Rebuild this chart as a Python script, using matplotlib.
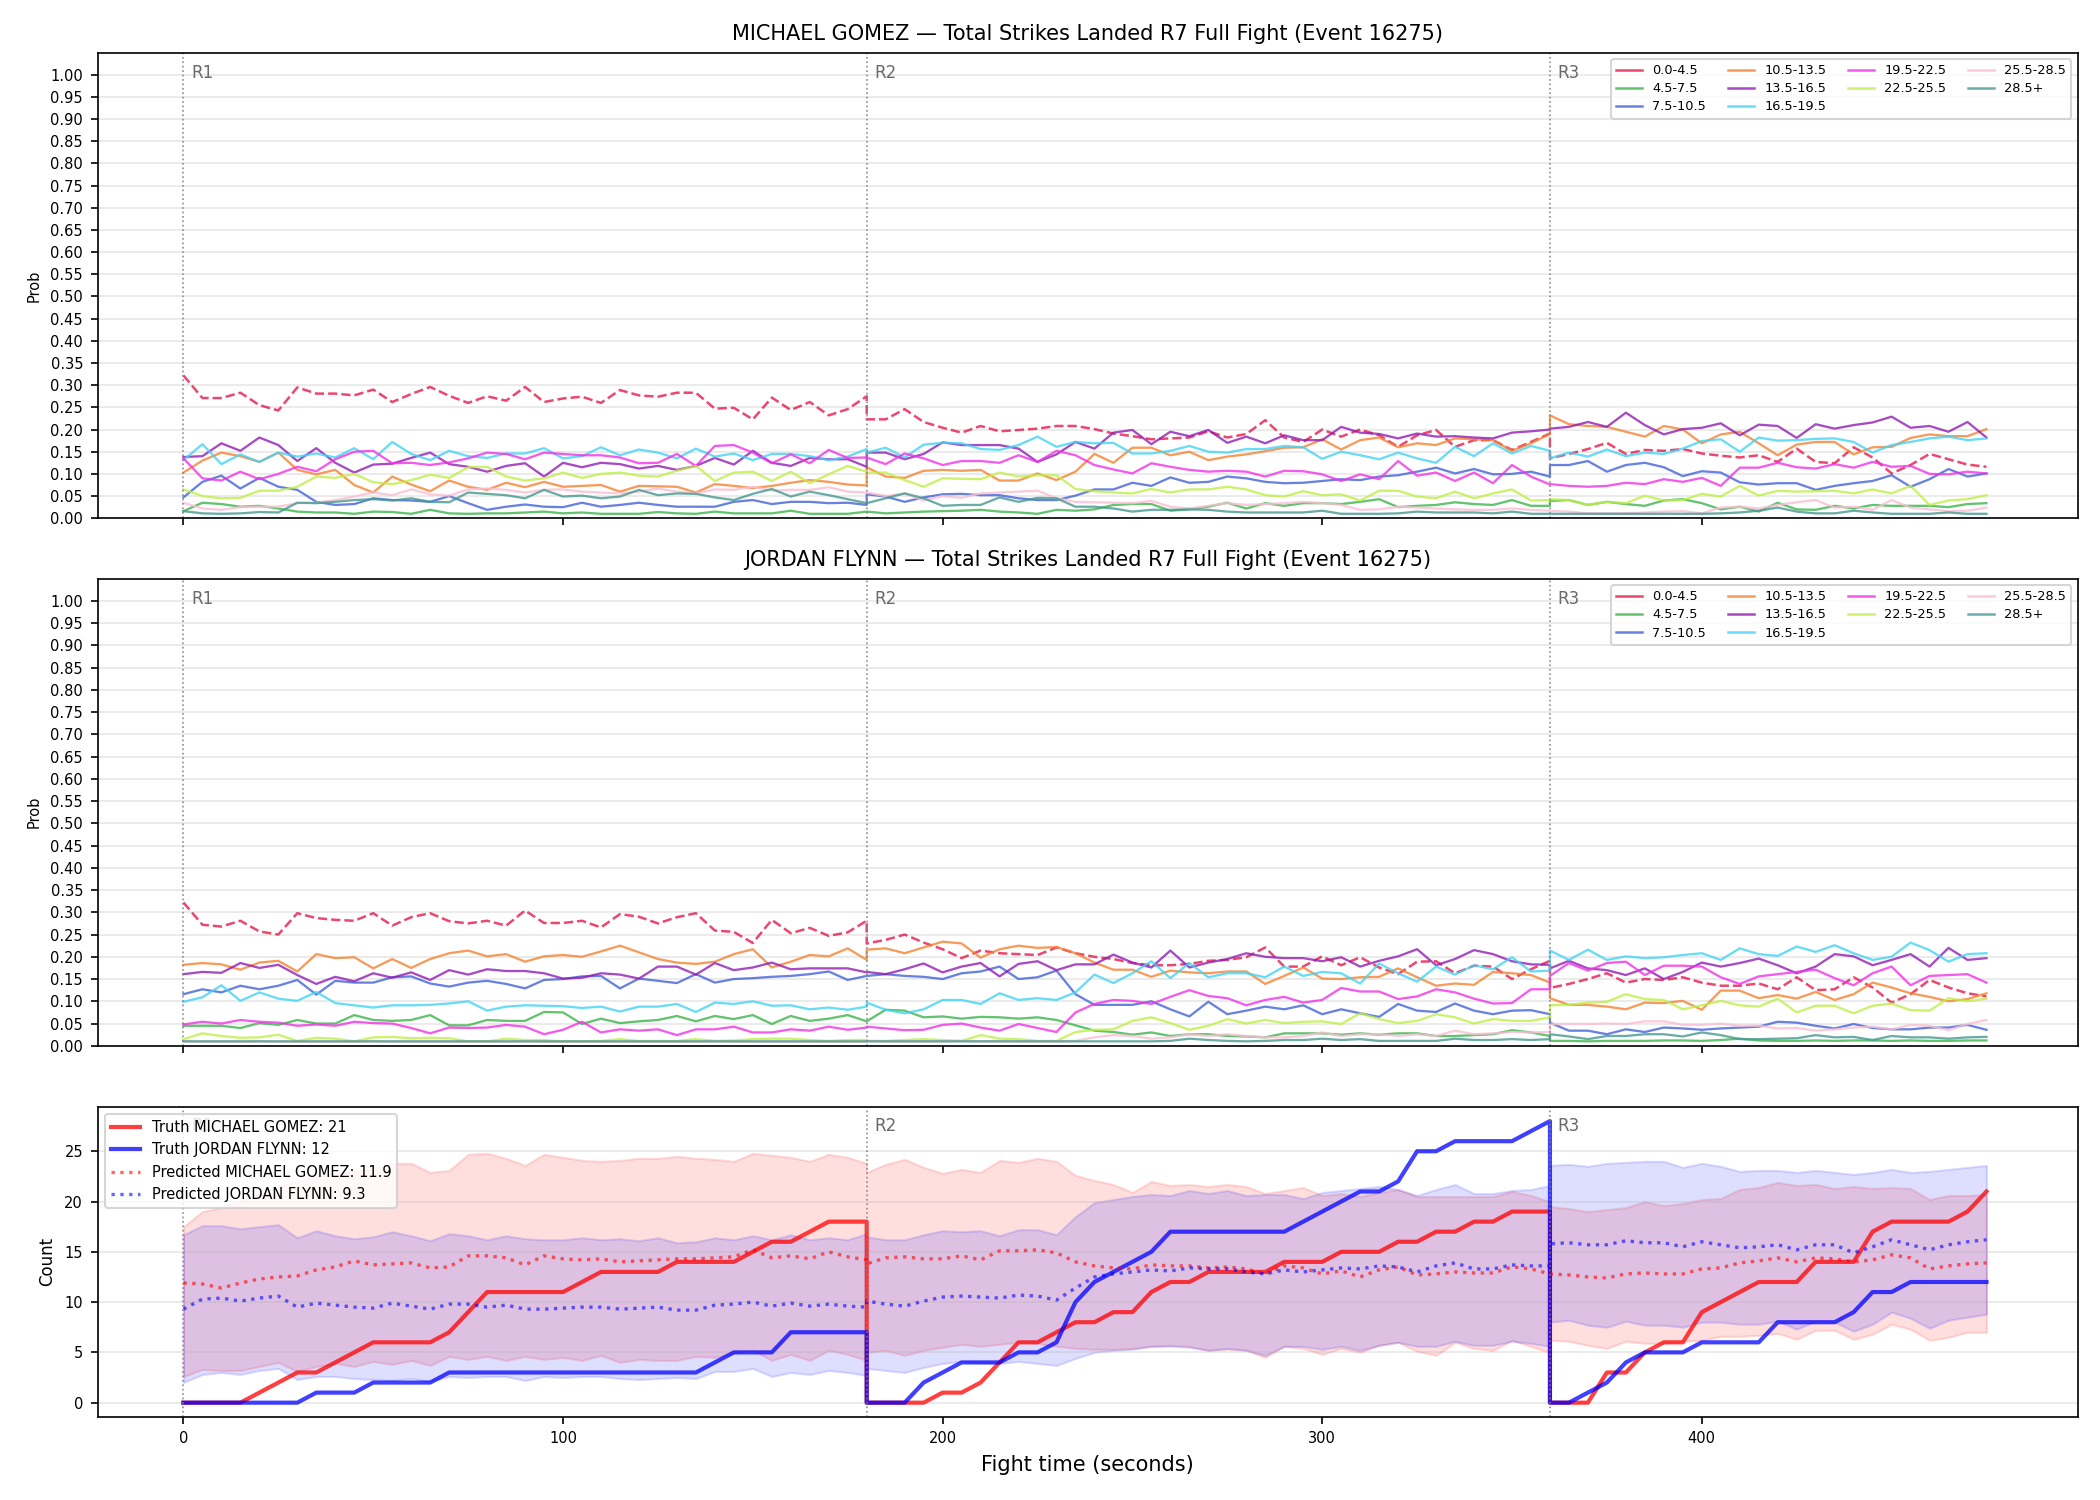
"""
Round-by-round strike-bin probabilities and cumulative strike counts for one fight.
"""
from __future__ import annotations

import matplotlib

matplotlib.use("Agg")
import matplotlib.pyplot as plt  # noqa: E402
import numpy as np  # noqa: E402
from matplotlib.lines import Line2D  # noqa: E402

RED_NAME = "MICHAEL GOMEZ"
BLUE_NAME = "JORDAN FLYNN"
TITLE_TAIL = "Total Strikes Landed R7 Full Fight (Event 16275)"

ROUND_STARTS = [0, 180, 360]
ROUND_LABELS = ["R1", "R2", "R3"]
FIGHT_END = 475

BIN_LABELS = ["0.0-4.5", "4.5-7.5", "7.5-10.5", "10.5-13.5", "13.5-16.5",
              "16.5-19.5", "19.5-22.5", "22.5-25.5", "25.5-28.5", "28.5+"]
BIN_COLORS = ["#e6194b", "#3cb44b", "#4363d8", "#f58231", "#911eb4",
              "#42d4f4", "#f032e6", "#bfef45", "#fabed4", "#469990"]

# ---- MICHAEL GOMEZ bin probabilities (R1 | R2 | R3, every 5 s) ----
gomez_00_45 = [.322, .271, .271, .283, .255, .243, .295, .281, .281, .277, .290, .262, .280, .296, .276, .260, .275, .265, .296, .262, .270, .274, .260, .289, .277, .274, .283, .283, .247, .249, .223, .272, .244, .262, .232, .246, .275] + \
    [.223, .223, .246, .217, .204, .193, .208, .196, .199, .202, .208, .208, .201, .191, .185, .178, .180, .182, .196, .182, .190, .221, .182, .172, .200, .184, .200, .187, .161, .187, .199, .161, .176, .176, .154, .172, .191] + \
    [.135, .145, .156, .170, .145, .154, .152, .156, .146, .141, .137, .142, .127, .157, .127, .124, .160, .137, .101, .120, .145, .133, .121, .116]
gomez_45_75 = [.016, .035, .032, .026, .028, .022, .015, .013, .013, .010, .015, .014, .010, .019, .011, .010, .011, .011, .013, .015, .011, .013, .010, .010, .010, .014, .011, .010, .015, .011, .011, .011, .017, .010, .010, .010, .015] + \
    [.015, .011, .013, .015, .016, .017, .019, .015, .013, .010, .019, .017, .020, .030, .032, .032, .017, .020, .026, .035, .022, .034, .028, .034, .034, .032, .037, .043, .025, .028, .030, .036, .032, .030, .041, .028, .028] + \
    [.039, .041, .030, .037, .032, .028, .040, .043, .034, .020, .026, .015, .035, .020, .019, .028, .022, .030, .028, .028, .028, .025, .032, .034]
gomez_75_105 = [.047, .082, .096, .067, .091, .071, .064, .037, .030, .032, .045, .041, .040, .037, .050, .034, .019, .026, .031, .026, .025, .035, .026, .030, .035, .030, .026, .026, .026, .037, .041, .032, .037, .037, .034, .035, .030] + \
    [.054, .049, .037, .047, .054, .055, .052, .052, .045, .041, .041, .051, .065, .065, .080, .073, .092, .080, .082, .094, .090, .082, .079, .080, .084, .088, .086, .094, .097, .105, .114, .101, .111, .099, .100, .105, .094] + \
    [.120, .120, .129, .105, .120, .125, .115, .095, .106, .103, .081, .076, .079, .079, .064, .073, .079, .084, .097, .071, .088, .111, .094, .101]
gomez_105_135 = [.103, .130, .148, .140, .127, .148, .109, .099, .109, .075, .058, .094, .076, .061, .085, .071, .064, .080, .070, .082, .071, .073, .075, .060, .073, .072, .071, .058, .077, .073, .068, .073, .080, .086, .082, .076, .074] + \
    [.115, .094, .091, .107, .109, .107, .109, .085, .085, .101, .086, .105, .145, .125, .159, .159, .142, .150, .131, .139, .144, .151, .159, .160, .178, .155, .176, .182, .160, .169, .165, .180, .178, .176, .152, .169, .190] + \
    [.232, .212, .208, .206, .195, .184, .208, .200, .169, .189, .195, .169, .142, .166, .172, .172, .144, .160, .161, .181, .189, .185, .185, .201]
gomez_135_165 = [.138, .140, .169, .152, .182, .165, .129, .158, .125, .103, .121, .123, .136, .148, .122, .116, .105, .118, .124, .094, .125, .115, .125, .122, .112, .118, .109, .118, .136, .121, .152, .125, .118, .136, .133, .133, .116] + \
    [.148, .148, .133, .145, .171, .165, .165, .165, .157, .127, .144, .172, .157, .193, .199, .167, .195, .185, .199, .170, .184, .169, .187, .176, .176, .206, .193, .190, .180, .191, .184, .185, .182, .180, .193, .196, .200] + \
    [.202, .206, .217, .206, .238, .210, .189, .201, .204, .214, .187, .211, .208, .181, .212, .202, .210, .216, .229, .204, .208, .195, .217, .182]
gomez_165_195 = [.131, .167, .122, .144, .127, .148, .139, .146, .137, .158, .133, .172, .145, .131, .152, .140, .136, .146, .146, .158, .135, .140, .160, .142, .155, .148, .135, .157, .139, .146, .131, .145, .145, .140, .131, .139, .156] + \
    [.148, .159, .137, .166, .170, .169, .156, .154, .165, .184, .161, .172, .169, .170, .146, .146, .152, .163, .150, .148, .156, .156, .163, .160, .134, .150, .142, .133, .148, .135, .125, .161, .140, .169, .146, .163, .152] + \
    [.135, .148, .139, .155, .140, .148, .145, .157, .174, .178, .150, .182, .175, .176, .179, .180, .172, .148, .165, .172, .180, .184, .176, .180]
gomez_195_225 = [.135, .090, .085, .105, .088, .100, .116, .106, .133, .150, .152, .124, .125, .120, .126, .135, .148, .145, .133, .148, .145, .142, .142, .137, .124, .125, .145, .118, .163, .165, .148, .124, .144, .124, .154, .136, .137] + \
    [.137, .122, .146, .135, .120, .129, .129, .125, .142, .127, .152, .142, .120, .110, .101, .124, .116, .109, .105, .107, .105, .094, .107, .106, .099, .084, .099, .088, .129, .096, .103, .084, .103, .079, .120, .094, .076] + \
    [.077, .073, .071, .073, .080, .077, .088, .082, .091, .073, .114, .114, .125, .115, .112, .122, .114, .127, .116, .118, .100, .099, .105, .101]
gomez_225_255 = [.065, .050, .045, .046, .062, .062, .071, .094, .091, .100, .081, .077, .086, .098, .091, .115, .116, .094, .085, .090, .103, .091, .100, .103, .096, .094, .107, .118, .084, .103, .105, .084, .105, .079, .099, .118, .105] + \
    [.103, .103, .086, .071, .090, .089, .088, .103, .094, .097, .097, .066, .061, .058, .056, .066, .058, .065, .065, .071, .065, .052, .049, .061, .052, .054, .040, .062, .062, .049, .045, .060, .045, .056, .065, .040, .041] + \
    [.043, .041, .030, .037, .034, .051, .040, .041, .055, .049, .073, .051, .062, .060, .061, .062, .056, .065, .056, .073, .030, .040, .043, .052]
gomez_255_285 = [.035, .022, .019, .025, .026, .026, .034, .035, .041, .049, .058, .052, .065, .054, .051, .065, .067, .064, .058, .064, .065, .060, .058, .056, .060, .067, .060, .056, .065, .064, .071, .062, .064, .064, .070, .060, .058] + \
    [.058, .050, .056, .040, .050, .046, .056, .058, .060, .062, .045, .037, .036, .035, .034, .039, .026, .022, .028, .034, .030, .032, .034, .037, .034, .030, .019, .020, .026, .024, .022, .020, .019, .019, .022, .019, .017] + \
    [.017, .015, .011, .011, .011, .013, .015, .016, .011, .024, .026, .022, .030, .036, .041, .024, .026, .019, .041, .024, .020, .016, .017, .024]
gomez_285_up = [.016, .011, .010, .011, .014, .013, .035, .034, .037, .041, .043, .040, .045, .037, .036, .058, .055, .052, .045, .064, .049, .051, .045, .049, .064, .052, .056, .055, .047, .041, .055, .066, .049, .060, .052, .043, .034] + \
    [.034, .045, .056, .045, .028, .030, .030, .047, .037, .046, .045, .026, .026, .022, .015, .019, .019, .020, .019, .015, .013, .013, .013, .013, .017, .010, .010, .010, .011, .015, .013, .013, .013, .011, .015, .010, .010] + \
    [.010, .010, .010, .010, .010, .010, .010, .010, .010, .011, .013, .017, .024, .015, .011, .011, .017, .013, .010, .010, .010, .013, .010, .010]

# ---- JORDAN FLYNN bin probabilities ----
flynn_00_45 = [.322, .272, .268, .281, .257, .250, .298, .287, .283, .281, .298, .270, .289, .298, .280, .275, .281, .270, .304, .276, .276, .281, .266, .296, .290, .275, .289, .298, .259, .256, .231, .283, .253, .265, .247, .255, .281] + \
    [.230, .238, .250, .232, .217, .197, .214, .208, .206, .204, .221, .208, .200, .195, .186, .181, .181, .184, .191, .193, .199, .221, .178, .178, .201, .181, .199, .176, .161, .189, .190, .163, .180, .178, .150, .172, .191] + \
    [.130, .139, .150, .163, .142, .150, .148, .154, .142, .135, .135, .140, .127, .154, .125, .127, .154, .131, .097, .116, .148, .131, .118, .111]
flynn_45_75 = [.045, .045, .045, .040, .051, .047, .058, .050, .050, .069, .058, .056, .058, .069, .046, .046, .058, .056, .056, .076, .075, .049, .061, .051, .055, .058, .067, .055, .067, .060, .069, .049, .067, .056, .061, .069, .055] + \
    [.055, .081, .079, .064, .066, .061, .065, .064, .061, .064, .058, .046, .034, .031, .025, .030, .022, .026, .026, .022, .021, .019, .028, .028, .028, .025, .028, .025, .028, .028, .022, .022, .024, .026, .035, .030, .022] + \
    [.011, .011, .010, .011, .011, .011, .012, .012, .011, .013, .016, .012, .011, .011, .012, .011, .012, .012, .011, .012, .011, .011, .012, .012]
flynn_75_105 = [.116, .127, .120, .135, .127, .135, .148, .115, .146, .142, .142, .154, .156, .140, .133, .142, .146, .139, .129, .148, .150, .156, .157, .129, .151, .146, .141, .161, .142, .150, .152, .155, .157, .161, .167, .148, .157] + \
    [.157, .161, .157, .155, .150, .163, .167, .178, .150, .154, .169, .116, .092, .092, .092, .100, .082, .066, .099, .071, .079, .088, .082, .091, .071, .082, .073, .065, .094, .079, .076, .095, .079, .071, .079, .080, .071] + \
    [.052, .034, .034, .026, .037, .031, .041, .039, .036, .039, .041, .043, .054, .052, .045, .039, .049, .040, .037, .037, .041, .041, .047, .036]
flynn_105_135 = [.182, .186, .183, .171, .187, .191, .167, .206, .197, .199, .174, .195, .175, .195, .208, .214, .201, .206, .189, .201, .204, .200, .212, .225, .210, .195, .187, .184, .189, .206, .217, .176, .189, .204, .201, .219, .193] + \
    [.216, .219, .208, .221, .234, .230, .198, .217, .225, .220, .222, .208, .187, .171, .171, .155, .169, .165, .163, .167, .167, .139, .157, .176, .151, .150, .154, .155, .174, .154, .135, .140, .137, .166, .163, .159, .142] + \
    [.107, .092, .092, .088, .082, .097, .096, .101, .081, .124, .124, .107, .114, .106, .121, .103, .116, .142, .131, .118, .110, .100, .105, .118]
flynn_135_165 = [.161, .166, .164, .186, .175, .182, .159, .139, .155, .145, .163, .153, .165, .148, .170, .160, .172, .168, .168, .163, .151, .153, .163, .160, .151, .178, .178, .160, .186, .170, .176, .187, .172, .174, .174, .174, .165] + \
    [.166, .161, .172, .185, .165, .178, .186, .156, .184, .190, .170, .183, .183, .205, .187, .176, .214, .176, .187, .195, .208, .200, .197, .197, .190, .199, .178, .191, .201, .217, .181, .195, .215, .206, .190, .183, .182] + \
    [.174, .191, .174, .170, .159, .174, .150, .166, .187, .178, .186, .196, .181, .163, .178, .206, .201, .181, .193, .206, .178, .220, .193, .197]
flynn_165_195 = [.099, .109, .136, .101, .120, .106, .101, .121, .096, .091, .086, .091, .091, .092, .095, .100, .079, .088, .091, .090, .089, .085, .088, .077, .088, .088, .094, .076, .097, .094, .100, .090, .091, .082, .086, .081, .088] + \
    [.097, .081, .073, .082, .103, .103, .094, .118, .103, .107, .103, .120, .160, .141, .163, .190, .152, .186, .154, .163, .163, .154, .178, .157, .166, .163, .140, .185, .163, .144, .178, .160, .181, .172, .199, .167, .169] + \
    [.214, .193, .216, .193, .201, .197, .199, .204, .208, .193, .219, .206, .202, .223, .211, .226, .208, .193, .200, .232, .215, .189, .206, .208]
flynn_195_225 = [.048, .054, .050, .058, .054, .052, .045, .048, .045, .054, .051, .050, .040, .028, .041, .040, .041, .047, .043, .026, .036, .054, .030, .037, .034, .037, .024, .037, .037, .043, .030, .030, .037, .034, .043, .036, .041] + \
    [.043, .039, .035, .036, .047, .050, .041, .034, .049, .040, .031, .075, .094, .103, .101, .094, .110, .125, .112, .107, .091, .103, .110, .097, .103, .130, .122, .122, .105, .111, .127, .120, .106, .095, .096, .127, .127] + \
    [.157, .186, .169, .186, .189, .159, .180, .180, .178, .154, .139, .156, .161, .166, .171, .152, .136, .163, .178, .136, .157, .159, .161, .142]
flynn_225_255 = [.015, .028, .022, .018, .019, .025, .011, .018, .016, .010, .019, .020, .017, .018, .017, .010, .010, .016, .013, .013, .010, .010, .011, .015, .011, .011, .011, .015, .011, .012, .015, .016, .016, .013, .011, .013, .013] + \
    [.011, .011, .013, .015, .013, .011, .024, .016, .015, .011, .011, .031, .036, .037, .056, .064, .051, .036, .045, .060, .050, .058, .051, .054, .055, .049, .073, .060, .051, .056, .071, .064, .050, .060, .056, .056, .064] + \
    [.091, .092, .097, .099, .116, .105, .103, .082, .091, .101, .091, .088, .106, .075, .090, .090, .073, .090, .095, .080, .079, .107, .100, .106]
flynn_255_285 = [.010, .009, .009, .009, .010, .009, .009, .009, .009, .009, .010, .009, .009, .009, .009, .009, .009, .009, .010, .009, .009, .009, .009, .009, .009, .009, .009, .009, .010, .009, .009, .009, .009, .009, .009, .009, .009] + \
    [.011, .010, .010, .010, .010, .011, .010, .010, .010, .010, .010, .011, .019, .024, .022, .016, .019, .026, .022, .026, .022, .019, .019, .022, .030, .022, .026, .026, .022, .026, .022, .034, .026, .028, .031, .030, .031] + \
    [.049, .049, .049, .050, .049, .055, .055, .047, .047, .050, .045, .045, .039, .040, .034, .037, .041, .043, .037, .047, .045, .035, .049, .058]
flynn_285_up = [.010, .010, .010, .010, .010, .010, .010, .010, .010, .010, .010, .010, .010, .010, .010, .010, .010, .010, .010, .010, .010, .010, .010, .010, .010, .010, .010, .010, .010, .010, .010, .010, .010, .010, .010, .010, .010] + \
    [.010, .010, .010, .010, .010, .010, .010, .010, .010, .010, .010, .010, .010, .010, .010, .010, .011, .016, .013, .011, .010, .011, .013, .013, .016, .013, .015, .011, .011, .011, .011, .016, .013, .013, .015, .013, .015] + \
    [.026, .021, .015, .022, .022, .026, .026, .021, .030, .024, .015, .015, .016, .017, .024, .019, .020, .013, .022, .019, .019, .016, .019, .020]

# ---- cumulative counts: truth, prediction and band ----
truth_gomez = [0, 0, 0, 0, 1, 2, 3, 3, 4, 5, 6, 6, 6, 6, 7, 9, 11, 11, 11, 11, 11, 12, 13, 13, 13, 13, 14, 14, 14, 14, 15, 16, 16, 17, 18, 18, 18] + \
    [0, 0, 0, 0, 1, 1, 2, 4, 6, 6, 7, 8, 8, 9, 9, 11, 12, 12, 13, 13, 13, 13, 14, 14, 14, 15, 15, 15, 16, 16, 17, 17, 18, 18, 19, 19, 19] + \
    [0, 0, 0, 3, 3, 5, 6, 6, 9, 10, 11, 12, 12, 12, 14, 14, 14, 17, 18, 18, 18, 18, 19, 21]
truth_flynn = [0, 0, 0, 0, 0, 0, 0, 1, 1, 1, 2, 2, 2, 2, 3, 3, 3, 3, 3, 3, 3, 3, 3, 3, 3, 3, 3, 3, 4, 5, 5, 5, 7, 7, 7, 7, 7] + \
    [0, 0, 0, 2, 3, 4, 4, 4, 5, 5, 6, 10, 12, 13, 14, 15, 17, 17, 17, 17, 17, 17, 17, 18, 19, 20, 21, 21, 22, 25, 25, 26, 26, 26, 26, 27, 28] + \
    [0, 0, 1, 2, 4, 5, 5, 5, 6, 6, 6, 6, 8, 8, 8, 8, 9, 11, 11, 12, 12, 12, 12, 12]
pred_gomez = [11.9, 11.8, 11.4, 11.9, 12.3, 12.5, 12.6, 13.2, 13.5, 14.1, 13.7, 13.8, 13.9, 13.4, 13.5, 14.6, 14.6, 14.4, 13.7, 14.6, 14.3, 14.2, 14.3, 14.0, 14.1, 14.2, 14.3, 14.3, 14.4, 14.5, 15.2, 14.4, 14.6, 14.3, 15.0, 14.5, 14.2] + \
    [13.8, 14.4, 14.5, 14.3, 14.3, 14.6, 14.2, 15.1, 15.1, 15.2, 14.9, 14.0, 13.6, 13.4, 13.3, 13.7, 13.6, 13.6, 13.4, 13.5, 13.3, 12.8, 13.6, 13.4, 12.8, 13.1, 12.5, 13.2, 13.5, 12.7, 12.8, 13.0, 12.9, 12.9, 13.5, 13.3, 12.8] + \
    [12.8, 12.7, 12.5, 12.4, 12.8, 12.9, 12.8, 12.8, 13.3, 13.4, 13.9, 14.1, 14.4, 14.0, 14.4, 14.3, 14.0, 14.2, 14.7, 14.4, 13.3, 13.6, 13.8, 13.9]
pred_flynn = [9.3, 10.3, 10.4, 10.1, 10.4, 10.6, 9.5, 9.9, 9.7, 9.5, 9.4, 9.9, 9.6, 9.3, 9.8, 9.8, 9.5, 9.7, 9.3, 9.3, 9.4, 9.5, 9.5, 9.3, 9.4, 9.5, 9.2, 9.2, 9.7, 9.8, 10.0, 9.6, 9.9, 9.6, 9.8, 9.6, 9.5] + \
    [10.1, 9.8, 9.6, 10.1, 10.5, 10.6, 10.5, 10.4, 10.7, 10.6, 10.2, 11.4, 12.5, 12.8, 13.0, 13.2, 13.1, 13.4, 13.3, 13.3, 13.0, 12.8, 13.2, 13.0, 13.2, 13.4, 13.3, 13.6, 13.5, 13.0, 13.6, 13.9, 13.3, 13.3, 13.7, 13.6, 13.6] + \
    [15.8, 15.9, 15.7, 15.7, 16.1, 15.9, 15.9, 15.5, 16.0, 15.7, 15.4, 15.5, 15.7, 15.2, 15.7, 15.7, 14.9, 15.5, 16.2, 15.7, 15.2, 15.7, 16.0, 16.2]
band_gomez_hi = [17.5, 19.0, 19.4, 20.0, 20.8, 21.5, 22.0, 22.5, 22.8, 23.0, 23.3, 23.8, 23.8, 22.9, 23.1, 24.7, 24.8, 24.3, 23.6, 24.7, 24.4, 24.1, 24.0, 24.1, 24.3, 24.3, 24.5, 24.3, 24.2, 24.0, 24.8, 24.6, 24.4, 24.0, 24.7, 24.4, 23.8] + \
    [22.9, 23.7, 24.2, 23.4, 22.8, 23.2, 22.9, 24.1, 23.9, 24.3, 24.0, 22.6, 22.1, 21.7, 20.9, 22.0, 21.6, 21.7, 21.5, 21.7, 21.5, 20.8, 21.1, 21.4, 20.6, 20.8, 20.5, 20.9, 21.2, 20.5, 20.5, 20.5, 20.5, 20.5, 21.0, 20.6, 20.0] + \
    [19.5, 19.3, 19.0, 19.2, 19.4, 20.0, 19.6, 19.8, 20.2, 20.3, 21.2, 21.4, 21.9, 21.6, 21.7, 21.3, 21.5, 21.3, 21.4, 21.3, 20.2, 20.6, 20.6, 20.7]
band_gomez_lo = [2.6, 3.3, 3.2, 3.2, 3.6, 4.0, 3.1, 3.6, 3.9, 3.6, 4.1, 3.8, 4.2, 3.7, 4.6, 4.3, 4.6, 4.2, 4.6, 4.3, 4.5, 4.2, 4.7, 4.0, 4.3, 4.2, 4.2, 4.6, 4.5, 4.9, 5.2, 4.2, 4.8, 4.2, 5.2, 4.8, 4.2] + \
    [5.0, 5.2, 4.7, 5.2, 5.5, 5.8, 5.6, 5.8, 6.0, 5.9, 5.6, 5.4, 5.3, 5.3, 5.4, 5.6, 5.7, 5.6, 5.2, 5.3, 5.2, 4.5, 5.6, 5.4, 4.8, 5.4, 5.0, 5.7, 6.0, 5.1, 4.7, 6.0, 5.4, 5.2, 6.2, 5.6, 5.0] + \
    [6.2, 6.1, 5.7, 5.4, 6.1, 5.9, 5.9, 6.1, 6.2, 6.6, 6.6, 6.7, 6.9, 6.3, 7.2, 7.2, 6.3, 6.8, 7.8, 7.3, 6.2, 6.5, 7.0, 7.0]
band_flynn_hi = [16.7, 17.6, 17.6, 17.3, 17.5, 17.7, 16.4, 17.1, 16.6, 16.3, 16.5, 17.0, 16.6, 16.1, 16.8, 16.6, 16.2, 16.6, 16.3, 16.2, 16.2, 16.4, 16.2, 16.3, 16.1, 16.4, 15.9, 16.0, 16.4, 16.2, 16.6, 16.2, 16.7, 16.2, 16.4, 16.2, 16.8] + \
    [16.5, 16.2, 16.2, 16.7, 17.1, 17.0, 17.1, 16.6, 17.2, 17.2, 16.7, 18.5, 19.9, 20.2, 20.5, 20.7, 20.6, 21.1, 20.8, 21.1, 20.6, 20.7, 20.7, 20.3, 20.9, 21.1, 21.3, 21.5, 21.2, 20.6, 21.2, 21.7, 20.8, 20.8, 21.1, 21.2, 21.6] + \
    [23.6, 23.7, 23.5, 23.8, 23.9, 24.0, 24.0, 23.4, 23.8, 23.5, 23.0, 23.1, 23.1, 22.9, 23.1, 22.9, 22.7, 22.9, 23.2, 22.9, 23.0, 23.2, 23.4, 23.6]
band_flynn_lo = [2.0, 2.8, 3.0, 2.8, 3.2, 3.4, 2.3, 2.6, 2.6, 2.4, 2.3, 2.2, 2.4, 2.1, 2.6, 2.5, 2.6, 2.6, 2.2, 2.6, 2.5, 2.6, 2.6, 2.4, 2.3, 2.4, 2.5, 2.4, 3.1, 3.1, 3.4, 2.6, 3.0, 2.8, 3.2, 3.0, 2.7] + \
    [3.4, 3.2, 3.0, 3.5, 3.9, 4.1, 4.0, 3.9, 4.1, 3.9, 3.7, 4.4, 5.0, 5.2, 5.3, 5.6, 5.6, 5.5, 5.2, 5.4, 5.2, 4.7, 5.6, 5.6, 5.3, 5.6, 5.2, 5.7, 6.0, 5.6, 5.6, 6.1, 5.7, 5.7, 6.1, 5.9, 5.6] + \
    [8.0, 8.2, 7.7, 7.5, 8.1, 7.7, 7.7, 7.5, 8.0, 8.0, 7.8, 7.8, 8.1, 7.3, 8.1, 8.0, 7.1, 7.8, 9.0, 8.4, 7.4, 8.2, 8.5, 8.8]

GOMEZ_BINS = [gomez_00_45, gomez_45_75, gomez_75_105, gomez_105_135, gomez_135_165,
              gomez_165_195, gomez_195_225, gomez_225_255, gomez_255_285, gomez_285_up]
FLYNN_BINS = [flynn_00_45, flynn_45_75, flynn_75_105, flynn_105_135, flynn_135_165,
              flynn_165_195, flynn_195_225, flynn_225_255, flynn_255_285, flynn_285_up]


def _sample_times() -> np.ndarray:
    # each round restarts at its own start, so the boundary second appears twice
    ends = ROUND_STARTS[1:] + [FIGHT_END]
    return np.concatenate([np.arange(s, e + 1, 5) for s, e in zip(ROUND_STARTS, ends)])


def _round_marks(ax, frac: float) -> None:
    top = ax.get_ylim()[1]
    for x0, lab in zip(ROUND_STARTS, ROUND_LABELS):
        ax.axvline(x0, color="gray", linestyle=":", linewidth=0.8, alpha=0.9)
        ax.text(x0 + 2, top * frac, lab, fontsize=8, color="dimgray", va="top", ha="left")


def _prob_panel(ax, t, bins, name) -> None:
    for i, (vals, col) in enumerate(zip(bins, BIN_COLORS)):
        ax.plot(t, vals, color=col, linewidth=1.1 if i else 1.2, alpha=0.8,
                linestyle="--" if i == 0 else "-")
    ax.set_ylim(0, 1.05)
    ax.set_yticks(np.arange(0, 1.0001, 0.05))
    ax.tick_params(axis="both", labelsize=7)
    ax.set_ylabel("Prob", fontsize=7)
    ax.grid(axis="y", alpha=0.3)
    ax.set_title(f"{name} \u2014 {TITLE_TAIL}", fontsize=10)
    handles = [Line2D([], [], color=c, linewidth=1.2, alpha=0.8) for c in BIN_COLORS]
    ax.legend(handles, BIN_LABELS, loc="upper right", ncol=4, fontsize=6.2,
              handlelength=2.0, columnspacing=1.7, labelspacing=0.4)
    _round_marks(ax, 0.975)


def main() -> None:
    t = _sample_times()
    fig = plt.figure(figsize=(14, 10), dpi=150)
    ax1 = fig.add_axes((0.0465, 0.6545, 0.943, 0.3105))
    ax2 = fig.add_axes((0.0465, 0.3028, 0.943, 0.3115), sharex=ax1)
    ax3 = fig.add_axes((0.0465, 0.0555, 0.943, 0.2065), sharex=ax1)

    _prob_panel(ax1, t, GOMEZ_BINS, RED_NAME)
    _prob_panel(ax2, t, FLYNN_BINS, BLUE_NAME)
    ax1.tick_params(labelbottom=False)
    ax2.tick_params(labelbottom=False)

    ax3.fill_between(t, band_gomez_lo, band_gomez_hi, color="red", alpha=0.13)
    ax3.fill_between(t, band_flynn_lo, band_flynn_hi, color="blue", alpha=0.13)
    ax3.plot(t, truth_gomez, color="red", linewidth=2, alpha=0.75,
             label=f"Truth {RED_NAME}: {truth_gomez[-1]}")
    ax3.plot(t, truth_flynn, color="blue", linewidth=2, alpha=0.75,
             label=f"Truth {BLUE_NAME}: {truth_flynn[-1]}")
    ax3.plot(t, pred_gomez, color="red", linewidth=1.6, alpha=0.6, linestyle=":",
             label=f"Predicted {RED_NAME}: {pred_gomez[0]:.1f}")
    ax3.plot(t, pred_flynn, color="blue", linewidth=1.6, alpha=0.6, linestyle=":",
             label=f"Predicted {BLUE_NAME}: {pred_flynn[0]:.1f}")
    ax3.set_xlim(-22.6, 499.1)
    ax3.set_ylabel("Count", fontsize=8)
    ax3.set_xlabel("Fight time (seconds)", fontsize=10)
    ax3.tick_params(axis="both", labelsize=7)
    ax3.grid(axis="y", alpha=0.3)
    ax3.legend(loc="upper left", fontsize=7)
    _round_marks(ax3, 0.965)

    fig.savefig("out.png", dpi=150)
    plt.close(fig)


if __name__ == "__main__":
    main()
